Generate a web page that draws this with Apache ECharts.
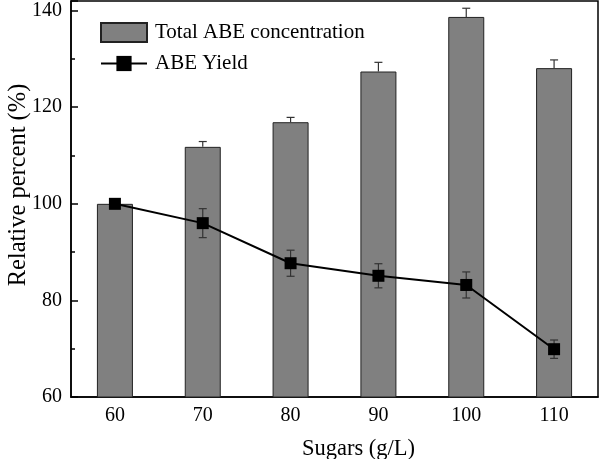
<!DOCTYPE html>
<html>
<head>
<meta charset="utf-8">
<script src="https://cdn.jsdelivr.net/npm/echarts@6/dist/echarts.min.js"></script>
<style>html,body{margin:0;padding:0;background:#fff}#chart{width:600px;height:459px}</style>
</head>
<body>
<div id="chart"></div>
<script>
var categories = ['60', '70', '80', '90', '100', '110'];
var concValues = [100, 111.8, 116.9, 127.4, 138.7, 128.1];
var concErrors = [0, 1.1, 1.0, 1.9, 1.8, 1.7];
var yieldValues = [100, 96.0, 87.7, 85.1, 83.2, 69.9];
var yieldErrors = [0, 3.0, 2.7, 2.5, 2.7, 1.9];
var yTicks = [60, 80, 100, 120, 140];

var FONT = '"Liberation Serif", "Times New Roman", serif';

function errorRender(values, errs, upOnly) {
  return function (params, api) {
    var i = api.value(0);
    var v = values[i], e = errs[i];
    if (!e) return null;
    var top = api.coord([i, v + e]);
    var bot = api.coord([i, upOnly ? v : v - e]);
    var hw = 4;
    var style = { stroke: '#333', lineWidth: 1.2 };
    var children = [
      { type: 'line', shape: { x1: top[0], y1: top[1], x2: bot[0], y2: bot[1] }, style: style },
      { type: 'line', shape: { x1: top[0] - hw, y1: top[1], x2: top[0] + hw, y2: top[1] }, style: style }
    ];
    if (!upOnly) {
      children.push({ type: 'line', shape: { x1: bot[0] - hw, y1: bot[1], x2: bot[0] + hw, y2: bot[1] }, style: style });
    }
    return { type: 'group', children: children };
  };
}

var chart = echarts.init(document.getElementById('chart'), null, { renderer: 'canvas' });
chart.setOption({
  animation: false,
  backgroundColor: '#fff',
  textStyle: { fontFamily: FONT },
  grid: { left: 71, right: 2, top: 1, bottom: 62, containLabel: false, outerBoundsMode: 'none', show: true, borderColor: '#000', borderWidth: 1.5, backgroundColor: 'transparent' },
  legend: {
    orient: 'vertical', left: 100, top: 22, itemWidth: 46, itemHeight: 19, itemGap: 10, padding: 0,
    textStyle: { fontFamily: FONT, fontSize: 21, lineHeight: 19, color: '#000', padding: [0, 0, 0, 3] },
    data: [
      { name: 'Total ABE concentration', icon: 'rect' },
      { name: 'ABE Yield' }
    ]
  },
  xAxis: [{
    type: 'category', data: categories, position: 'bottom',
    name: 'Sugars (g/L)', nameLocation: 'middle', nameGap: 41, nameMoveOverlap: false,
    nameTextStyle: { fontFamily: FONT, fontSize: 22.5, color: '#000', padding: [0, 0, 0, 48] },
    axisLine: { lineStyle: { color: '#000', width: 1.5 } },
    axisTick: { alignWithLabel: true, inside: true, length: 7, lineStyle: { color: '#000', width: 1.5 } },
    axisLabel: { fontFamily: FONT, fontSize: 20, color: '#000', margin: 9 },
    splitLine: { show: false }
  }, {
    type: 'category', data: categories, position: 'bottom',
    axisLine: { show: false },
    axisTick: { alignWithLabel: false, inside: true, length: 4, lineStyle: { color: '#000', width: 1.5 } },
    axisLabel: { show: false },
    splitLine: { show: false }
  }],
  yAxis: {
    type: 'value', min: 60, max: 142, interval: 20,
    name: 'Relative percent (%)', nameLocation: 'middle', nameGap: 40, nameMoveOverlap: false,
    nameTextStyle: { fontFamily: FONT, fontSize: 24.5, color: '#000', padding: [0, 0, 0, 28] },
    axisLine: { show: true, lineStyle: { color: '#000', width: 1.5 } },
    axisTick: { show: true, inside: true, length: 7, lineStyle: { color: '#000', width: 1.5 } },
    minorTick: { show: true, splitNumber: 2, length: 4, lineStyle: { color: '#000', width: 1.5 } },
    axisLabel: {
      fontFamily: FONT, fontSize: 20, color: '#000', margin: 9,
      formatter: function (v) { return yTicks.indexOf(v) >= 0 ? String(v) : ''; }
    },
    splitLine: { show: false }
  },
  series: [{
    name: 'Total ABE concentration', type: 'bar', data: concValues, barWidth: 36,
    itemStyle: { color: '#808080', borderColor: '#222', borderWidth: 1 },
    z: 1
  }, {
    type: 'custom', renderItem: errorRender(concValues, concErrors, true),
    data: categories.map(function (c, i) { return [i]; }), z: 2, silent: true
  }, {
    name: 'ABE Yield', type: 'line', data: yieldValues,
    symbol: 'rect', symbolSize: 12,
    itemStyle: { color: '#000' },
    lineStyle: { color: '#000', width: 2 },
    z: 4
  }, {
    type: 'custom', renderItem: errorRender(yieldValues, yieldErrors, false),
    data: categories.map(function (c, i) { return [i]; }), z: 3, silent: true
  }]
});
</script>
</body>
</html>
